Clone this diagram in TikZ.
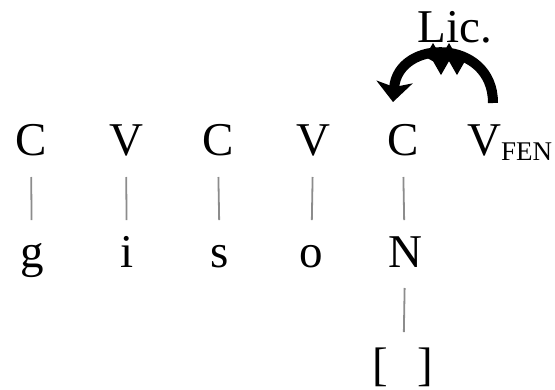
\documentclass[tikz,border=0pt]{standalone}
\usepackage{fontspec}
\setmainfont{Liberation Serif}
\usetikzlibrary{arrows.meta,decorations.pathmorphing}
\tikzset{
  seg/.style={inner sep=0pt, anchor=base, font=\fontsize{47}{50}\selectfont},
  link/.style={draw=black!45, line width=1.8pt, shorten <=22pt, shorten >=47pt},
  lic/.style={line width=10pt, -{Stealth[width=36pt,length=20pt,inset=5pt]}},
}
\begin{document}
\begin{tikzpicture}[x=1pt,y=-1pt]
\useasboundingbox (0,0) rectangle (555,389);
% top row
\node[seg] (c1) at (31,155) {C};
\node[seg] (v1) at (126,155) {V};
\node[seg] (c2) at (218,155) {C};
\node[seg] (v2) at (313,155) {V};
\node[seg] (c3) at (403,155) {C};
\node[seg, anchor=base west] (vfen) at (467,155) {V{\fontsize{27}{30}\selectfont\raisebox{-5pt}{FEN}}};
% bottom row
\node[seg] (g) at (32,267) {g};
\node[seg] (i) at (127,267) {i};
\node[seg] (s) at (220,267) {s};
\node[seg] (o) at (311,267) {o};
\node[seg] (n) at (405,267) {N};
\node[seg] (br) at (403,380) {[\hspace{30pt}]};
% licensing label
\node[seg] (lic) at (455,42) {Lic.};
% association lines
\draw[link] (c1.base) -- (g.base);
\draw[link] (v1.base) -- (i.base);
\draw[link] (c2.base) -- (s.base);
\draw[link] (v2.base) -- (o.base);
\draw[link] (c3.base) -- (n.base);
\draw[link, shorten <=21pt, shorten >=48pt] (n.base) -- (br.base);
% licensing arrow
\coordinate (as) at (493,103);
\coordinate (ae) at (393,102);
\draw[lic] (as) .. controls (493,38) and (398,38) .. (ae);
\coordinate (z1) at (429,59);
\coordinate (z2) at (462,59);
\draw[line width=9pt, decorate, decoration={zigzag, segment length=16pt, amplitude=7pt}] (z1) -- (z2);
\end{tikzpicture}
\end{document}
